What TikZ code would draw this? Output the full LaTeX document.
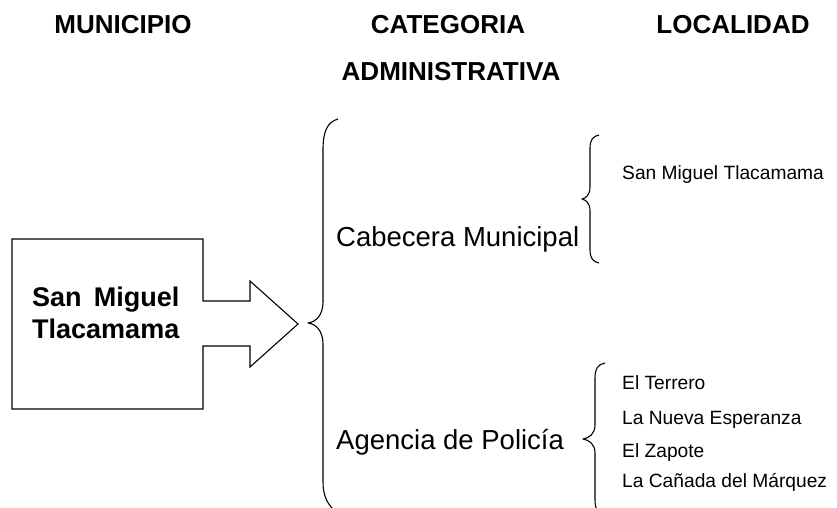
\documentclass[tikz,border=0pt]{standalone}
\usepackage{fontspec}
\setmainfont{Liberation Sans}
\begin{document}
\begin{tikzpicture}[x=1pt,y=-1pt,
  hdr/.style={font=\fontsize{26}{30}\selectfont\bfseries, anchor=base, inner sep=0pt},
  cat/.style={font=\fontsize{27.5}{30}\selectfont, anchor=base west, inner sep=0pt},
  loc/.style={font=\fontsize{19.2}{22}\selectfont, anchor=base west, inner sep=0pt},
  brace/.style={line width=1.1pt, line join=round},
  shapeline/.style={line width=1.1pt, line join=miter}]
\useasboundingbox (0,0) rectangle (837,508);
% headers
\node[hdr] (hmun) at (123,34) {MUNICIPIO};
\node[hdr] (hcat) at (448,34) {CATEGORIA};
\node[hdr] (hadm) at (451,81) {ADMINISTRATIVA};
\node[hdr] (hloc) at (733,34) {LOCALIDAD};
% box with arrow
\draw[shapeline] (12,239) -- (203,239) -- (203,301) -- (250,301) -- (250,281)
  -- (298,324) -- (250,367) -- (250,346) -- (203,346) -- (203,409) -- (12,409) -- cycle;
\node[font=\fontsize{27}{32}\selectfont\bfseries, anchor=base west, inner sep=0pt] (mun1) at (32,306) {San\hspace{0.45em}Miguel};
\node[font=\fontsize{27}{32}\selectfont\bfseries, anchor=base west, inner sep=0pt] (mun2) at (32,338) {Tlacamama};
% big brace
\draw[brace] (338,119) .. controls (327,122) and (323,132) .. (323,150) -- (323,302)
  .. controls (323,315) and (316,322) .. (308,323)
  .. controls (316,324) and (323,331) .. (323,344) -- (323,482)
  .. controls (323,495) and (327,503) .. (333,509);
% categories
\node[cat] (cab) at (336,246) {Cabecera Municipal};
\node[cat] (age) at (336,449) {Agencia de Policía};
% small brace 1
\draw[brace] (599,135) .. controls (593,136) and (590,140) .. (590,148) -- (590,187)
  .. controls (590,195) and (586,198) .. (582,199)
  .. controls (586,200) and (590,203) .. (590,211) -- (590,250)
  .. controls (590,258) and (593,262) .. (599,263);
% small brace 2
\draw[brace] (605,363) .. controls (598,364) and (595,369) .. (595,378) -- (595,425)
  .. controls (595,434) and (589,438) .. (583,439)
  .. controls (589,440) and (595,444) .. (595,453) -- (595,500)
  .. controls (595,509) and (598,514) .. (605,515);
% localities
\node[loc] (l0) at (622,179) {San Miguel Tlacamama};
\node[loc] (l1) at (622,389) {El Terrero};
\node[loc] (l2) at (622,424) {La Nueva Esperanza};
\node[loc] (l3) at (622,457) {El Zapote};
\node[loc] (l4) at (622,487) {La Cañada del Márquez};
\end{tikzpicture}
\end{document}
